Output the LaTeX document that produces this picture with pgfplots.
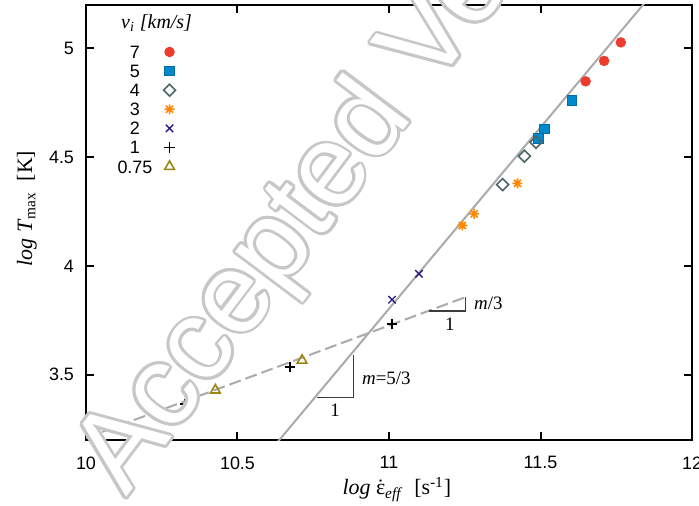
\documentclass[border=0pt]{standalone}
\usepackage{fontspec}
\setmainfont{Liberation Serif}
\setsansfont{Liberation Sans}
\usepackage{pgfplots}
\pgfplotsset{compat=1.18}
\usepackage{contour}
\contourlength{1.4bp}
\definecolor{c7}{RGB}{238,59,43}
\definecolor{c5}{RGB}{0,136,204}
\definecolor{c4}{RGB}{77,102,102}
\definecolor{c3}{RGB}{255,136,0}
\definecolor{c2}{RGB}{40,30,130}
\definecolor{c1}{RGB}{0,0,0}
\definecolor{c075}{RGB}{155,135,20}
\definecolor{lgray}{RGB}{170,170,170}
\definecolor{dgray}{RGB}{60,60,60}
\pgfdeclareplotmark{ast8}{%
  \pgfpathmoveto{\pgfqpoint{0pt}{\pgfplotmarksize}}\pgfpathlineto{\pgfqpoint{0pt}{-\pgfplotmarksize}}%
  \pgfpathmoveto{\pgfqpoint{\pgfplotmarksize}{0pt}}\pgfpathlineto{\pgfqpoint{-\pgfplotmarksize}{0pt}}%
  \pgfpathmoveto{\pgfqpoint{0.707\pgfplotmarksize}{0.707\pgfplotmarksize}}\pgfpathlineto{\pgfqpoint{-0.707\pgfplotmarksize}{-0.707\pgfplotmarksize}}%
  \pgfpathmoveto{\pgfqpoint{-0.707\pgfplotmarksize}{0.707\pgfplotmarksize}}\pgfpathlineto{\pgfqpoint{0.707\pgfplotmarksize}{-0.707\pgfplotmarksize}}%
  \pgfusepathqstroke}
\pgfplotsset{mk/.style={only marks, legend image code/.code={\draw[mark repeat=2,mark phase=2,##1] plot coordinates {(0bp,0bp) (4bp,0bp) (8bp,0bp)};}}}
\begin{document}
\begin{tikzpicture}
\begin{axis}[
  at={(0,0)}, anchor=south west, scale only axis,
  width=303bp, height=217.5bp,
  xmin=10, xmax=12, ymin=3.2, ymax=5.2,
  xtick={10,10.5,11,11.5,12}, ytick={3.5,4,4.5,5},
  scaled ticks=false,
  tick align=inside, major tick length=4bp,
  axis line style={line width=1bp},
  every tick/.style={black, line width=1bp},
  /pgf/number format/assume math mode=true,
  ticklabel style={font=\sffamily\fontsize{9}{10}\selectfont},
  xticklabel style={yshift=-4.8bp},
  yticklabel style={xshift=-2.5bp},
  xlabel={\textit{log} $\dot{\mbox{ε}}$\textsubscript{\textit{eff}}\ \ [s\textsuperscript{-1}]},
  ylabel={\textit{log} \textit{T}\textsubscript{max}\ \ [K]},
  every axis x label/.style={at={(rel axis cs:0.513,-0.1264)}, anchor=base, font=\fontsize{11}{13}\selectfont},
  every axis y label/.style={at={(rel axis cs:-0.0891,0.532)}, anchor=base, rotate=90, font=\fontsize{11}{13}\selectfont},
  legend plot pos=right, legend cell align=center,
  legend style={at={(rel axis cs:0.052,0.907)}, anchor=north west, draw=none, fill=none,
    inner sep=0pt, outer sep=0pt, row sep=3.05bp, column sep=5.6bp,
    nodes={inner sep=0pt, text height=6.5bp, text depth=0pt, font=\sffamily\fontsize{9}{10}\selectfont}},
]
\addplot[lgray, line width=1bp, forget plot] coordinates {(10.62,3.17) (11.86,5.237)};
\addplot[lgray, line width=1bp, dash pattern=on 6bp off 2.5bp, forget plot] coordinates {(10.0,3.21) (11.253,3.857)};
\addplot[dgray, line width=0.6bp, forget plot] coordinates {(10.762,3.395) (10.883,3.395) (10.883,3.59)};
\addplot[dgray, line width=0.6bp, forget plot] coordinates {(11.132,3.793) (11.253,3.793) (11.253,3.857)};
\node[font=\fontsize{9.5}{11}\selectfont] at (axis cs:10.822,3.337) {1};
\node[font=\fontsize{9.5}{11}\selectfont, anchor=west, inner sep=0pt] at (axis cs:10.91,3.482) {\textit{m}=5/3};
\node[font=\fontsize{9.5}{11}\selectfont] at (axis cs:11.201,3.730) {1};
\node[font=\fontsize{9.5}{11}\selectfont, anchor=west, inner sep=0pt] at (axis cs:11.28,3.828) {\textit{m}/3};

\addplot[mk, mark=*, mark size=2.4bp, c7] coordinates {(11.649,4.849) (11.710,4.943) (11.765,5.028)};
\addlegendentry{7}
\addplot[mk, mark=square*, mark size=2.4bp, draw=c5!80!black, fill=c5, line width=0.4bp] coordinates {(11.493,4.587) (11.513,4.630) (11.603,4.761)};
\addlegendentry{5}
\addplot[mk, mark=square, mark size=2.1bp, mark options={rotate=45}, c4, line width=0.8bp] coordinates {(11.375,4.374) (11.447,4.505) (11.485,4.569)};
\addlegendentry{4}
\addplot[mk, mark=ast8, mark size=2.5bp, c3, line width=0.8bp] coordinates {(11.242,4.186) (11.281,4.240) (11.424,4.380)};
\addlegendentry{3}
\addplot[mk, mark=x, mark size=2.6bp, c2, line width=0.7bp] coordinates {(11.010,3.845) (11.099,3.964)};
\addlegendentry{2}
\addplot[mk, mark=+, mark size=2.6bp, c1, line width=0.8bp] coordinates {(10.327,3.365) (10.673,3.535) (11.010,3.734)};
\addlegendentry{1}
\addplot[mk, mark=triangle, mark size=2.8bp, c075, line width=0.8bp] coordinates {(10.427,3.429) (10.713,3.566)};
\addlegendentry{0.75}
\node[font=\fontsize{10}{12}\selectfont] at (rel axis cs:0.1165,0.959) {\textit{v}\textsubscript{\textit{i}} \textit{[km/s]}};
\end{axis}
\node[rotate=53, anchor=base west, inner sep=0pt, font=\sffamily\fontsize{57.5}{58}\selectfont, text=white] at (20bp,-29bp) {\contour{black!22}{Accepted Version}};
\pgfresetboundingbox
\path[use as bounding box] (-43bp,-33bp) rectangle (306.5bp,220bp);
\end{tikzpicture}
\end{document}
